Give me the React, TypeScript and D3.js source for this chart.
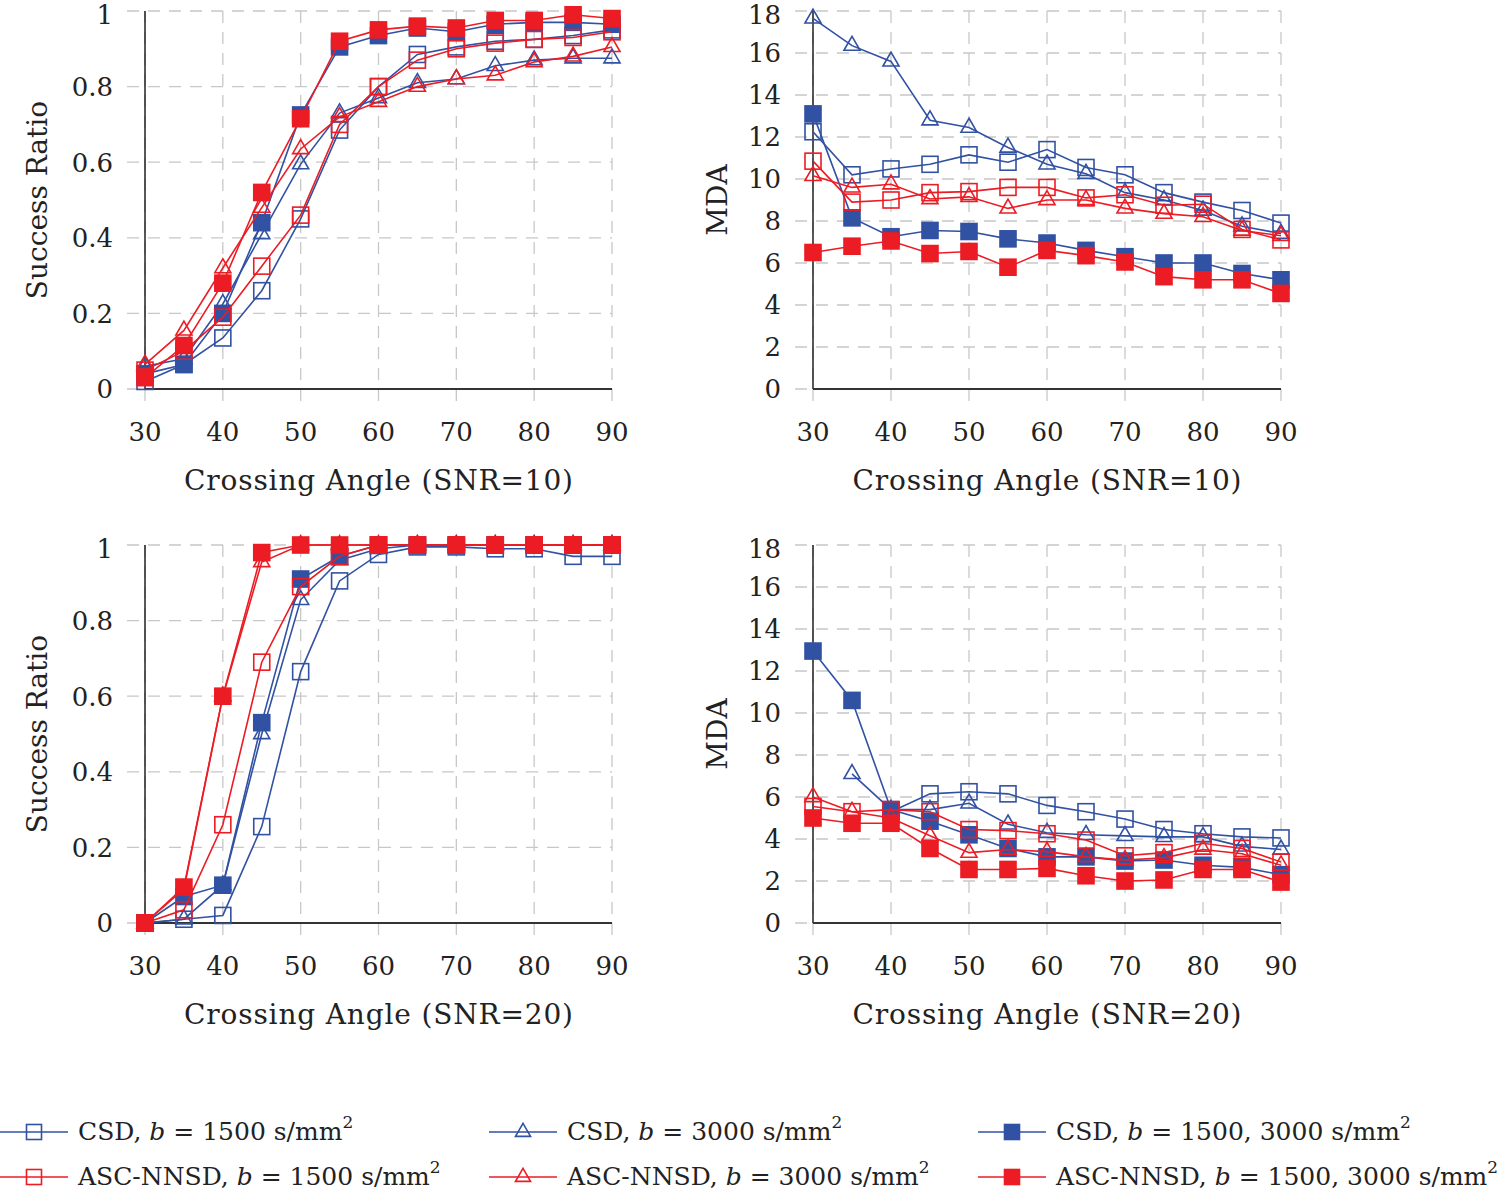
import React from 'react';
import * as d3 from 'd3';

const angles = [30, 35, 40, 45, 50, 55, 60, 65, 70, 75, 80, 85, 90];
const xTicks = [30, 40, 50, 60, 70, 80, 90];
const srTicks = [0, 0.2, 0.4, 0.6, 0.8, 1];
const mdaTicks = [0, 2, 4, 6, 8, 10, 12, 14, 16, 18];

// Success ratio, SNR=10
const sr10_csd1500 = [0.02, 0.065, 0.135, 0.26, 0.45, 0.685, 0.8, 0.885, 0.905, 0.92, 0.925, 0.935, 0.95];
const sr10_csd3000 = [0.06, 0.08, 0.225, 0.41, 0.595, 0.73, 0.77, 0.81, 0.82, 0.855, 0.87, 0.875, 0.875];
const sr10_csdBoth = [0.04, 0.065, 0.2, 0.44, 0.725, 0.905, 0.935, 0.955, 0.945, 0.965, 0.97, 0.97, 0.965];
const sr10_asc1500 = [0.05, 0.1, 0.19, 0.325, 0.46, 0.7, 0.8, 0.87, 0.9, 0.915, 0.925, 0.93, 0.945];
const sr10_asc3000 = [0.065, 0.155, 0.32, 0.48, 0.635, 0.72, 0.76, 0.8, 0.82, 0.83, 0.865, 0.88, 0.905];
const sr10_ascBoth = [0.03, 0.115, 0.28, 0.52, 0.715, 0.92, 0.95, 0.96, 0.955, 0.975, 0.975, 0.99, 0.98];

// MDA, SNR=10
const mda10_csd1500 = [12.25, 10.2, 10.48, 10.7, 11.15, 10.8, 11.4, 10.55, 10.2, 9.35, 8.9, 8.5, 7.9];
const mda10_csd3000 = [17.65, 16.35, 15.6, 12.8, 12.45, 11.5, 10.7, 10.25, 9.35, 9.0, 8.5, 7.75, 7.4];
const mda10_csdBoth = [13.1, 8.15, 7.25, 7.55, 7.5, 7.15, 6.95, 6.6, 6.3, 6.0, 6.0, 5.5, 5.2];
const mda10_asc1500 = [10.85, 8.9, 9.0, 9.35, 9.4, 9.6, 9.6, 9.1, 9.25, 8.75, 8.8, 7.6, 7.1];
const mda10_asc3000 = [10.15, 9.6, 9.75, 9.05, 9.15, 8.6, 9.0, 9.0, 8.6, 8.35, 8.2, 7.55, 7.3];
const mda10_ascBoth = [6.5, 6.8, 7.05, 6.45, 6.55, 5.8, 6.6, 6.35, 6.05, 5.35, 5.2, 5.2, 4.55];

// Success ratio, SNR=20
const sr20_csd1500 = [0, 0.01, 0.02, 0.255, 0.665, 0.905, 0.975, 0.995, 0.995, 0.99, 0.99, 0.97, 0.97];
const sr20_csd3000 = [0, 0.01, 0.1, 0.5, 0.855, 0.96, 0.99, 1, 1, 1, 1, 1, 1];
const sr20_csdBoth = [0, 0.07, 0.1, 0.53, 0.91, 0.97, 1, 1, 1, 1, 1, 1, 1];
const sr20_asc1500 = [0, 0.035, 0.26, 0.69, 0.89, 0.97, 1, 1, 1, 1, 1, 1, 1];
const sr20_asc3000 = [0, 0.09, 0.6, 0.955, 1, 1, 1, 1, 1, 1, 1, 1, 1];
const sr20_ascBoth = [0, 0.095, 0.6, 0.98, 1, 1, 1, 1, 1, 1, 1, 1, 1];

// MDA, SNR=20
const mda20_csd1500 = [null, null, 5.3, 6.15, 6.25, 6.15, 5.6, 5.3, 4.95, 4.45, 4.25, 4.1, 4.05];
const mda20_csd3000 = [null, 7.1, 5.4, 5.4, 5.7, 4.7, 4.3, 4.2, 4.15, 4.1, 4.1, 3.65, 3.5];
const mda20_csdBoth = [12.95, 10.6, 5.4, 4.85, 4.2, 3.55, 3.15, 3.15, 2.95, 3.0, 2.75, 2.65, 2.3];
const mda20_asc1500 = [5.55, 5.3, 5.4, 5.3, 4.45, 4.4, 4.25, 3.95, 3.2, 3.35, 3.8, 3.55, 2.9];
const mda20_asc3000 = [6.0, 5.3, 5.0, 4.15, 3.35, 3.5, 3.4, 3.15, 3.0, 3.1, 3.5, 3.3, 2.75];
const mda20_ascBoth = [5.0, 4.75, 4.75, 3.55, 2.55, 2.55, 2.6, 2.25, 2.0, 2.05, 2.55, 2.55, 1.95];

const BLUE = '#3151a3';
const RED = '#ec1c24';
const FONT = 'DejaVu Serif';

type Series = { color: string; marker: 'sqo' | 'tri' | 'sqf'; values: (number | null)[] };

const styles: { color: string; marker: 'sqo' | 'tri' | 'sqf' }[] = [
  { color: BLUE, marker: 'sqo' },
  { color: BLUE, marker: 'tri' },
  { color: BLUE, marker: 'sqf' },
  { color: RED, marker: 'sqo' },
  { color: RED, marker: 'tri' },
  { color: RED, marker: 'sqf' },
];

const mk = (vals: (number | null)[][]): Series[] => vals.map((v, i) => ({ ...styles[i], values: v }));

const legendNames = ['CSD', 'CSD', 'CSD', 'ASC-NNSD', 'ASC-NNSD', 'ASC-NNSD'];
const legendB = ['1500', '3000', '1500, 3000', '1500', '3000', '1500, 3000'];

function Marker({ type, x, y, color, s = 16 }: { type: string; x: number; y: number; color: string; s?: number }) {
  if (type === 'tri') {
    const r = s * 0.58;
    const p = `M${x},${y - r}L${x + r * 0.866},${y + r / 2}L${x - r * 0.866},${y + r / 2}Z`;
    return <path d={p} fill="none" stroke={color} strokeWidth={1.6} />;
  }
  const filled = type === 'sqf';
  return (
    <rect x={x - s / 2} y={y - s / 2} width={s} height={s} fill={filled ? color : 'none'} stroke={color} strokeWidth={1.6} />
  );
}

function Panel({ x0, x1, yTop, yBot, domain, ticks, fmt, yLabel, yLabelX, xLabel, series }: any) {
  const x = d3.scaleLinear().domain([30, 90]).range([x0, x1]);
  const y = d3.scaleLinear().domain(domain).range([yBot, yTop]);
  const line = d3
    .line<number | null>()
    .defined((d) => d !== null)
    .x((_, i) => x(angles[i]))
    .y((d) => y(d as number));
  const grid = '#c8c8c8';
  return (
    <g>
      {ticks.map((t: number) => (
        <line key={'h' + t} x1={x0 - 18} x2={x1} y1={y(t)} y2={y(t)} stroke={grid} strokeWidth={1.3} strokeDasharray="12 9" />
      ))}
      {xTicks.map((t) => (
        <line key={'v' + t} x1={x(t)} x2={x(t)} y1={yTop} y2={yBot + 16} stroke={grid} strokeWidth={1.3} strokeDasharray="12 9" />
      ))}
      <line x1={x0} x2={x0} y1={yTop} y2={yBot} stroke="#222" strokeWidth={1.5} />
      <line x1={x0} x2={x1} y1={yBot} y2={yBot} stroke="#333" strokeWidth={2} />
      {ticks.map((t: number) => (
        <text key={'yl' + t} x={x0 - 32} y={y(t) + (t === ticks[ticks.length - 1] ? 4 : 0)} dy="0.36em" textAnchor="end" fontFamily={FONT} fontSize={26} fill="#222">
          {fmt(t)}
        </text>
      ))}
      {xTicks.map((t) => (
        <text key={'xl' + t} x={x(t)} y={yBot + 52} textAnchor="middle" fontFamily={FONT} fontSize={26} fill="#222">
          {t}
        </text>
      ))}
      <text x={(x0 + x1) / 2} y={yBot + 101} textAnchor="middle" fontFamily={FONT} fontSize={28} fill="#222" textLength={389} lengthAdjust="spacing">
        {xLabel}
      </text>
      <text
        transform={`translate(${yLabelX},${(yTop + yBot) / 2}) rotate(-90)`}
        textAnchor="middle"
        fontFamily={FONT}
        fontSize={28}
        fill="#222"
      >
        {yLabel}
      </text>
      {series.map((s: Series, i: number) => (
        <g key={i}>
          <path d={line(s.values) || ''} fill="none" stroke={s.color} strokeWidth={1.6} />
          {s.values.map((v, j) =>
            v === null ? null : <Marker key={j} type={s.marker} x={x(angles[j])} y={y(v)} color={s.color} />
          )}
        </g>
      ))}
    </g>
  );
}

function Legend() {
  const cols = [0, 489, 978];
  const rows = [1132, 1177];
  return (
    <g>
      {styles.map((st, i) => {
        const col = i % 3;
        const row = Math.floor(i / 3);
        const lx = cols[col];
        const ly = rows[row];
        return (
          <g key={i}>
            <line x1={lx} x2={lx + 68} y1={ly} y2={ly} stroke={st.color} strokeWidth={1.6} />
            <Marker type={st.marker} x={lx + 34} y={ly} color={st.color} s={15} />
            <text x={lx + 78} y={ly + 8} fontFamily={FONT} fontSize={25} fill="#222">
              {legendNames[i]},{' '}
              <tspan fontStyle="italic">b</tspan> = {legendB[i]} s/mm
              <tspan dy={-12} fontSize={17}>2</tspan>
            </text>
          </g>
        );
      })}
    </g>
  );
}

export default function App() {
  const fmtSR = (t: number) => (t === 0 ? '0' : t === 1 ? '1' : String(t));
  const fmtM = (t: number) => String(t);
  return (
    <svg width={1500} height={1190} style={{ position: 'absolute', left: 0, top: 0, background: '#fff' }}>
      <rect width={1500} height={1190} fill="#fff" />
      <Panel x0={145} x1={612} yTop={11} yBot={389} domain={[0, 1]} ticks={srTicks} fmt={fmtSR}
        yLabel="Success Ratio" yLabelX={47} xLabel="Crossing Angle (SNR=10)"
        series={mk([sr10_csd1500, sr10_csd3000, sr10_csdBoth, sr10_asc1500, sr10_asc3000, sr10_ascBoth])} />
      <Panel x0={813} x1={1281} yTop={11} yBot={389} domain={[0, 18]} ticks={mdaTicks} fmt={fmtM}
        yLabel="MDA" yLabelX={727} xLabel="Crossing Angle (SNR=10)"
        series={mk([mda10_csd1500, mda10_csd3000, mda10_csdBoth, mda10_asc1500, mda10_asc3000, mda10_ascBoth])} />
      <Panel x0={145} x1={612} yTop={545} yBot={923} domain={[0, 1]} ticks={srTicks} fmt={fmtSR}
        yLabel="Success Ratio" yLabelX={47} xLabel="Crossing Angle (SNR=20)"
        series={mk([sr20_csd1500, sr20_csd3000, sr20_csdBoth, sr20_asc1500, sr20_asc3000, sr20_ascBoth])} />
      <Panel x0={813} x1={1281} yTop={545} yBot={923} domain={[0, 18]} ticks={mdaTicks} fmt={fmtM}
        yLabel="MDA" yLabelX={727} xLabel="Crossing Angle (SNR=20)"
        series={mk([mda20_csd1500, mda20_csd3000, mda20_csdBoth, mda20_asc1500, mda20_asc3000, mda20_ascBoth])} />
      <Legend />
    </svg>
  );
}
